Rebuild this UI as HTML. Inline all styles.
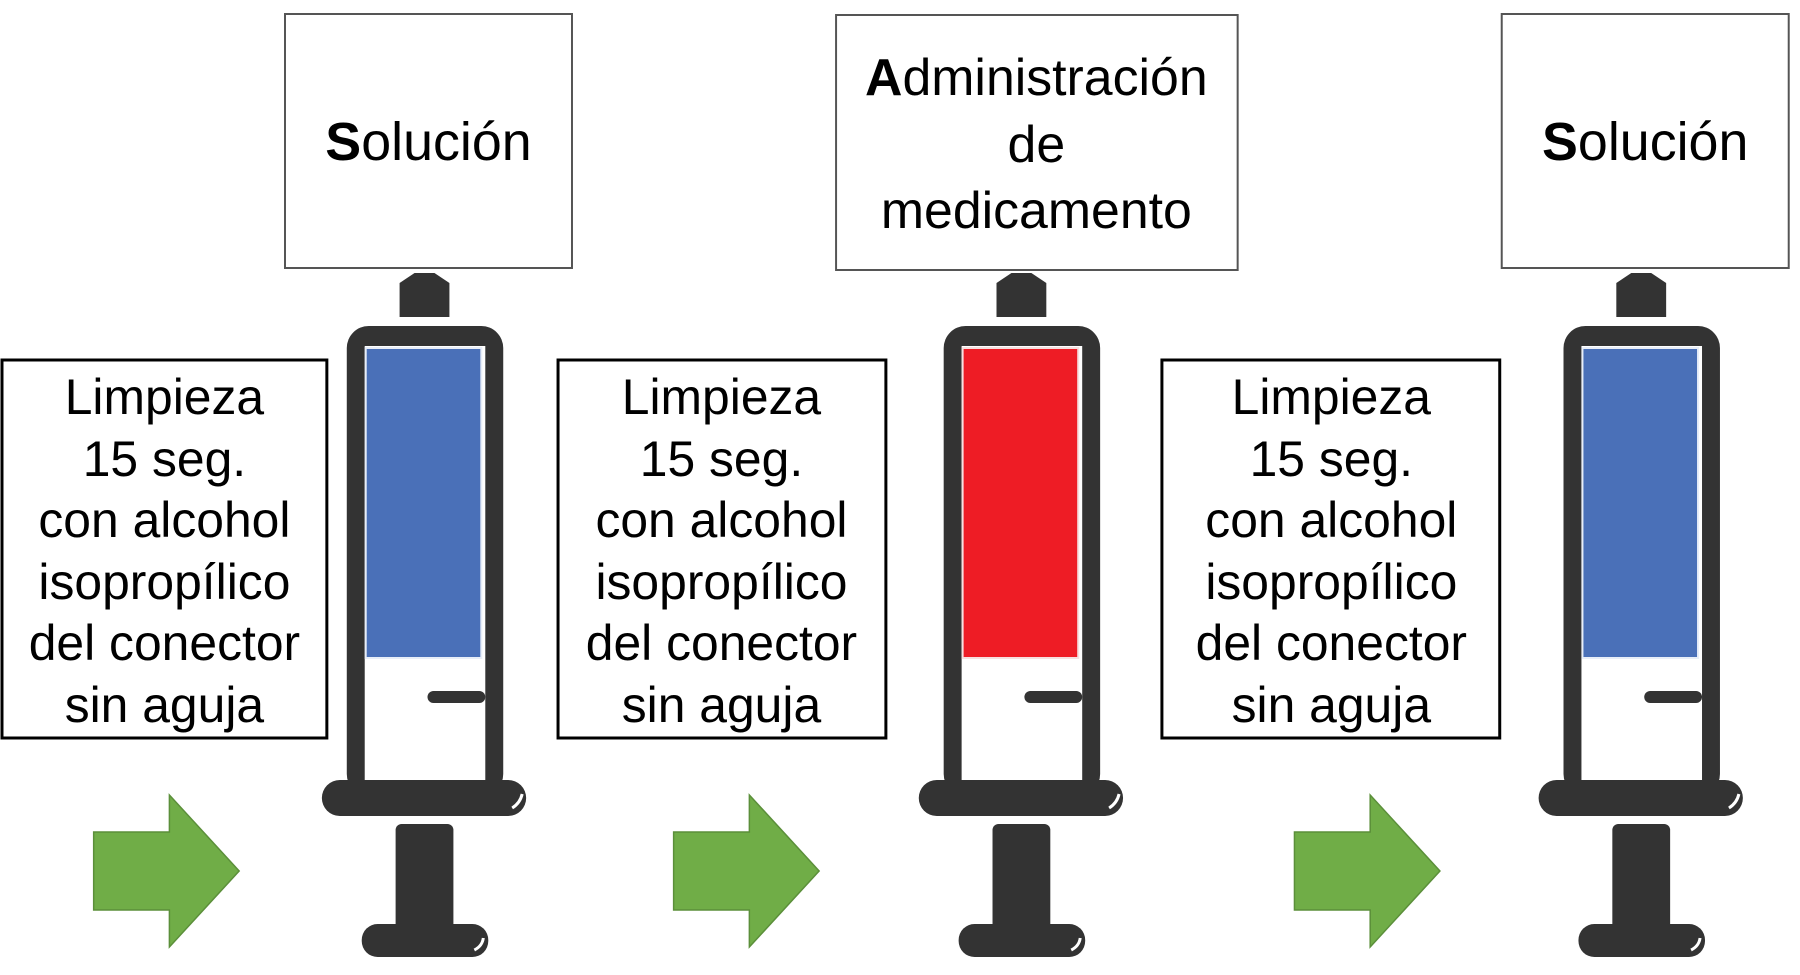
<!DOCTYPE html>
<html><head><meta charset="utf-8"><style>
html,body{margin:0;padding:0;background:#fff;}
svg{display:block;}
text{font-family:"Liberation Sans",Arial,sans-serif;fill:#000;}
</style></head><body>
<svg width="1800" height="975" viewBox="0 0 1800 975" xmlns="http://www.w3.org/2000/svg">
<defs>
<g id="syr">
  <path d="M-25,283 L-10,273 L10,273 L25,283 L25,317 L-25,317 Z" fill="#333"/>
  <rect x="-78" y="326" width="157" height="470" rx="22" fill="#333"/>
  <rect x="-60" y="346" width="121" height="440" fill="#fff"/>
  <rect x="3" y="691" width="58" height="12" rx="6" fill="#333"/>
  <rect x="-103" y="780" width="205" height="36" rx="18" fill="#333"/>
  <path d="M88,808 Q96,803 98,794" stroke="#fff" stroke-width="3" fill="none"/>
  <rect x="-29" y="824" width="58" height="106" rx="6" fill="#333"/>
  <rect x="-63" y="924" width="127" height="33" rx="16" fill="#333"/>
  <path d="M50,950 Q58,946 59,938" stroke="#fff" stroke-width="3" fill="none"/>
</g>
<path id="arr" d="M0,832 L76,832 L76,795 L146,871 L76,947 L76,910 L0,910 Z" fill="#70ad47" stroke="#5b8f3a" stroke-width="1.5"/>
</defs>
<g transform="matrix(0.9965 0 0 1 0 0)">
<!-- top boxes -->
<rect x="286" y="14" width="288" height="254" fill="#fff" stroke="#555" stroke-width="2"/>
<text x="430" y="160" font-size="54" text-anchor="middle"><tspan font-weight="bold">S</tspan>olución</text>
<rect x="839" y="15" width="403" height="255" fill="#fff" stroke="#555" stroke-width="2"/>
<text x="1040" y="95" font-size="52" text-anchor="middle"><tspan font-weight="bold">A</tspan>dministración</text>
<text x="1040" y="162" font-size="52" text-anchor="middle">de</text>
<text x="1040" y="228" font-size="52" text-anchor="middle">medicamento</text>
<rect x="1507" y="14" width="288" height="254" fill="#fff" stroke="#555" stroke-width="2"/>
<text x="1651" y="160" font-size="54" text-anchor="middle"><tspan font-weight="bold">S</tspan>olución</text>

<!-- syringes -->
<use href="#syr" x="426"/>
<rect x="367" y="348" width="116" height="310" fill="#4a70b8" stroke="#e8eef8" stroke-width="2"/>
<use href="#syr" x="1025"/>
<rect x="966" y="348" width="116" height="310" fill="#ee1c25" stroke="#f6e0e0" stroke-width="2"/>
<use href="#syr" x="1647"/>
<rect x="1588" y="348" width="116" height="310" fill="#4a70b8" stroke="#e8eef8" stroke-width="2"/>

<!-- left boxes -->
<g font-size="50" text-anchor="middle">
<rect x="2" y="360" width="326" height="378" fill="#fff" stroke="#000" stroke-width="3"/>
<text x="165" y="414">Limpieza</text><text x="165" y="476">15 seg.</text><text x="165" y="537">con alcohol</text><text x="165" y="599">isopropílico</text><text x="165" y="660">del conector</text><text x="165" y="722">sin aguja</text>
<rect x="560" y="360" width="329" height="378" fill="#fff" stroke="#000" stroke-width="3"/>
<text x="724" y="414">Limpieza</text><text x="724" y="476">15 seg.</text><text x="724" y="537">con alcohol</text><text x="724" y="599">isopropílico</text><text x="724" y="660">del conector</text><text x="724" y="722">sin aguja</text>
<rect x="1166" y="360" width="339" height="378" fill="#fff" stroke="#000" stroke-width="3"/>
<text x="1336" y="414">Limpieza</text><text x="1336" y="476">15 seg.</text><text x="1336" y="537">con alcohol</text><text x="1336" y="599">isopropílico</text><text x="1336" y="660">del conector</text><text x="1336" y="722">sin aguja</text>
</g>

<!-- arrows -->
<use href="#arr" x="94"/>
<use href="#arr" x="676"/>
<use href="#arr" x="1299"/>
</g>
</svg>
</body></html>
